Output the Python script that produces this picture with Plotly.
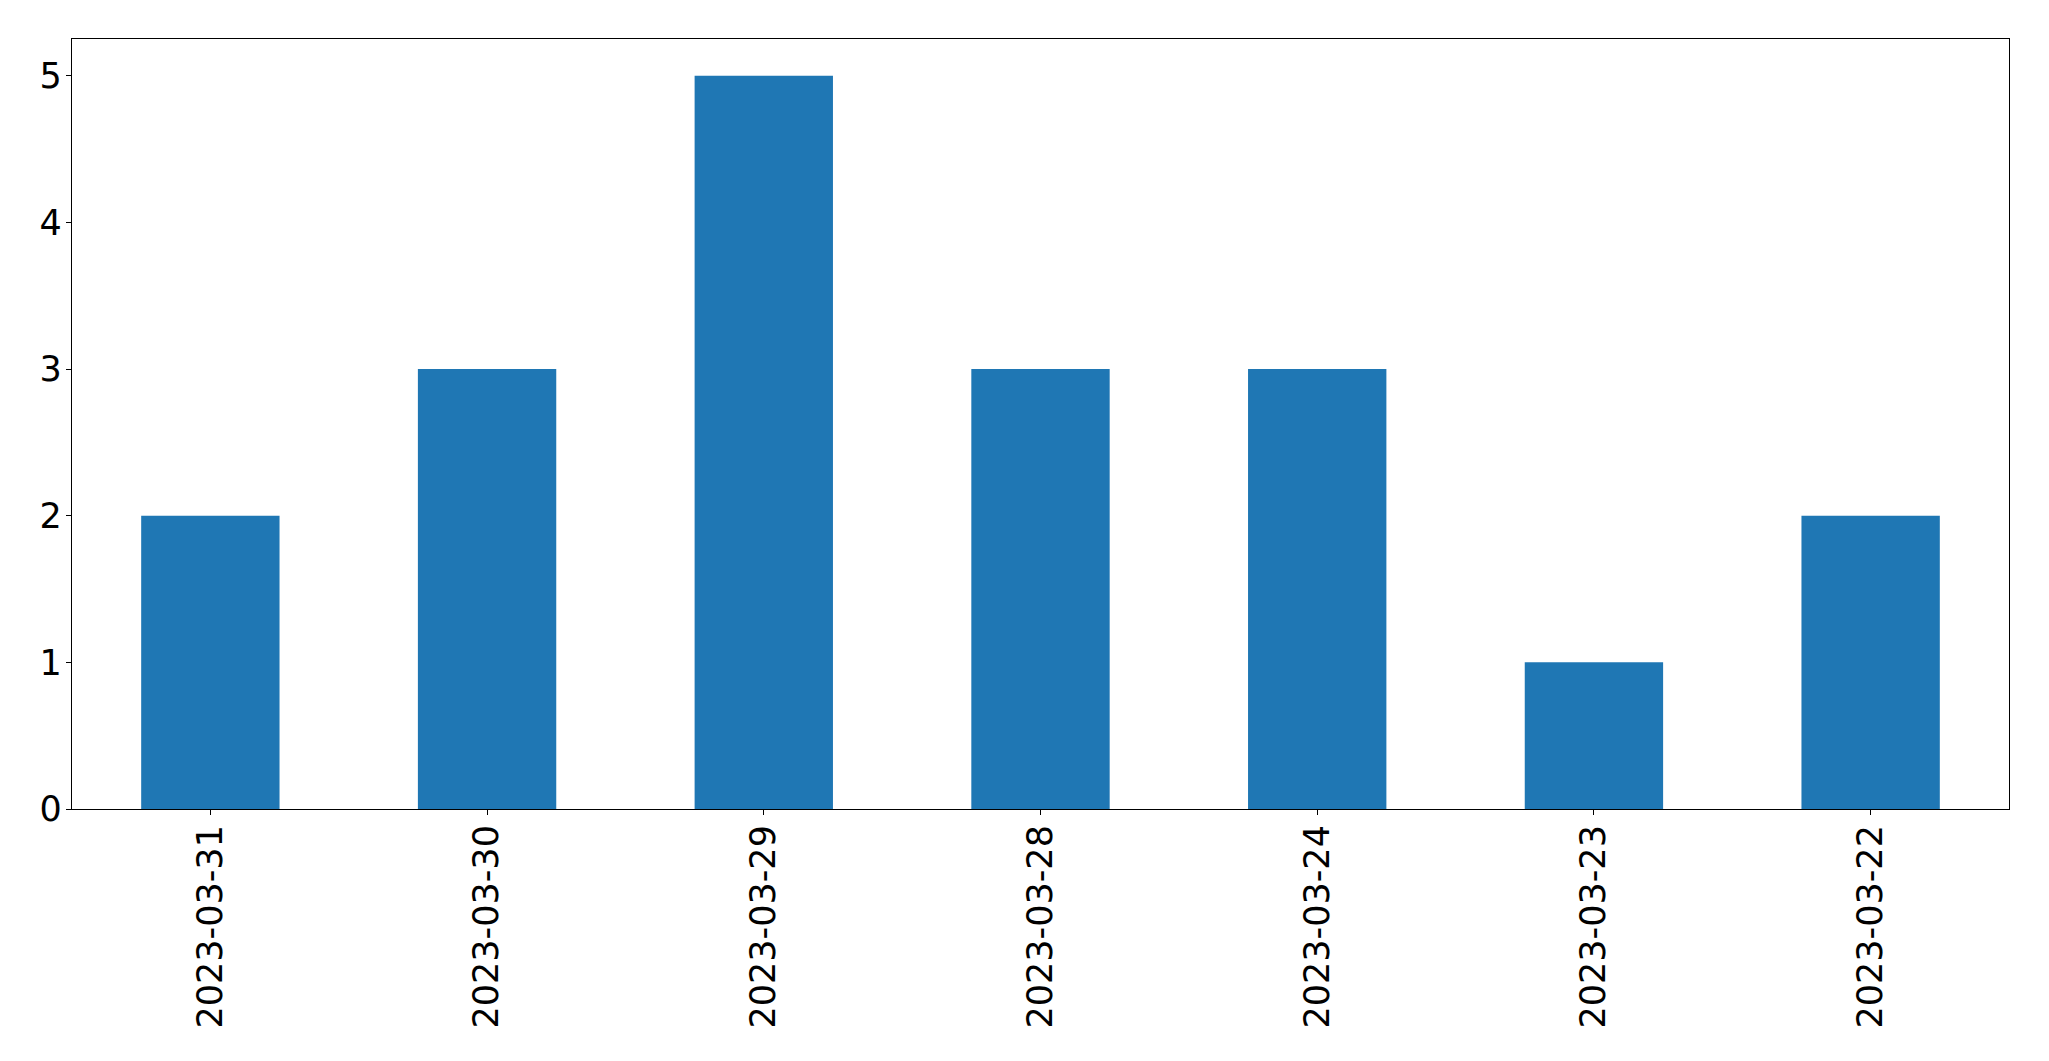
import plotly.graph_objects as go

dates = ["2023-03-31", "2023-03-30", "2023-03-29", "2023-03-28", "2023-03-24", "2023-03-23", "2023-03-22"]
counts = [2, 3, 5, 3, 3, 1, 2]

fig = go.Figure(go.Bar(x=dates, y=counts, width=0.5, marker=dict(color="#1f77b4", line=dict(width=0))))

# page body has 8px default margin; compensate
fig.update_layout(
    width=2041, height=1053,
    margin=dict(l=64, r=40, t=31, b=252),
    paper_bgcolor="white", plot_bgcolor="white",
    font=dict(family="DejaVu Sans", size=35, color="black"),
    showlegend=False,
)
fig.update_xaxes(type="category", range=[-0.5, 6.5], tickangle=-90,
                 showline=True, mirror=True, linecolor="black", linewidth=1.2,
                 ticks="outside", ticklen=5, tickwidth=1.2, tickcolor="black",
                 showgrid=False, zeroline=False, ticklabelstandoff=-4)
fig.update_yaxes(range=[0, 5.25], tickmode="linear", tick0=0, dtick=1,
                 showline=True, mirror=True, linecolor="black", linewidth=1.2,
                 ticks="outside", ticklen=5, tickwidth=1.2, tickcolor="black",
                 showgrid=False, zeroline=False, ticklabelstandoff=-3)

fig.write_html("out.html")
